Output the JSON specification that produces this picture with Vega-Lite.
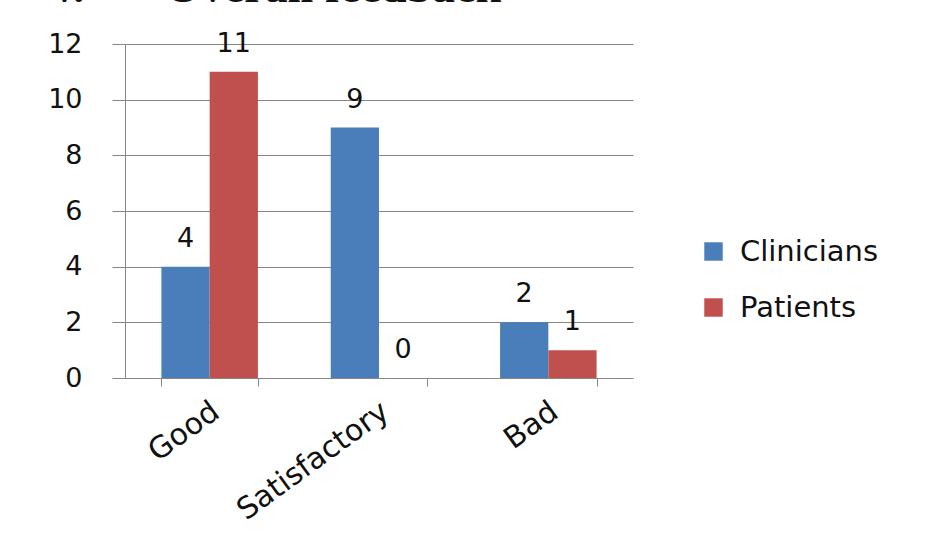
{
  "$schema": "https://vega.github.io/schema/vega-lite/v6.json",
  "autosize": "none",
  "width": 508,
  "height": 334,
  "padding": {"left": 125, "top": 44, "right": 307, "bottom": 160},
  "background": "white",
  "title": {
    "text": "v.\u00a0\u00a0\u00a0\u00a0\u00a0\u00a0\u00a0Overall feedback",
    "font": "Liberation Serif",
    "fontWeight": "bold",
    "fontSize": 46,
    "color": "#111111",
    "anchor": "start",
    "frame": "bounds",
    "baseline": "alphabetic",
    "dx": 5,
    "offset": -18
  },
  "data": {
    "values": [
      {"rating": "Good", "group": "Clinicians", "count": 4},
      {"rating": "Good", "group": "Patients", "count": 11},
      {"rating": "Satisfactory", "group": "Clinicians", "count": 9},
      {"rating": "Satisfactory", "group": "Patients", "count": 0},
      {"rating": "Bad", "group": "Clinicians", "count": 2},
      {"rating": "Bad", "group": "Patients", "count": 1}
    ]
  },
  "encoding": {
    "x": {
      "field": "rating",
      "type": "nominal",
      "sort": ["Good", "Satisfactory", "Bad"],
      "scale": {"paddingInner": 0.43, "paddingOuter": 0.215},
      "axis": {
        "title": null,
        "labelAngle": -36,
        "labelAlign": "right",
        "labelBaseline": "middle",
        "labelFont": "DejaVu Sans",
        "labelFontSize": 30,
        "labelColor": "#111111",
        "labelPadding": 22,
        "labelOffset": 6,
        "tickBand": "extent",
        "tickSize": 8,
        "tickColor": "#868686",
        "domainColor": "#868686",
        "grid": false
      }
    },
    "xOffset": {"field": "group", "type": "nominal", "sort": ["Clinicians", "Patients"]},
    "y": {
      "field": "count",
      "type": "quantitative",
      "scale": {"domain": [0, 12], "nice": false},
      "axis": {
        "title": null,
        "values": [0, 2, 4, 6, 8, 10, 12],
        "labelFont": "DejaVu Sans",
        "labelFontSize": 27,
        "labelColor": "#111111",
        "labelPadding": 30,
        "tickSize": 13,
        "tickColor": "#868686",
        "domainColor": "#868686",
        "grid": true,
        "gridColor": "#868686",
        "gridOpacity": 1
      }
    }
  },
  "layer": [
    {
      "mark": {"type": "bar"},
      "encoding": {
        "color": {
          "field": "group",
          "type": "nominal",
          "scale": {"domain": ["Clinicians", "Patients"], "range": ["#4A7EBB", "#C0504D"]},
          "legend": {
            "title": null,
            "orient": "none",
            "legendX": 574,
            "legendY": 193,
            "symbolType": "square",
            "symbolSize": 340,
            "symbolStrokeWidth": 0,
            "labelFont": "DejaVu Sans",
            "labelFontSize": 29,
            "labelColor": "#111111",
            "labelOffset": 12,
            "rowPadding": 26,
            "padding": 0
          }
        }
      }
    },
    {
      "mark": {
        "type": "text",
        "font": "DejaVu Sans",
        "fontSize": 27,
        "color": "#111111",
        "baseline": "alphabetic",
        "dy": -20
      },
      "encoding": {
        "text": {"field": "count", "type": "quantitative"}
      }
    }
  ],
  "config": {
    "view": {"stroke": null}
  }
}
